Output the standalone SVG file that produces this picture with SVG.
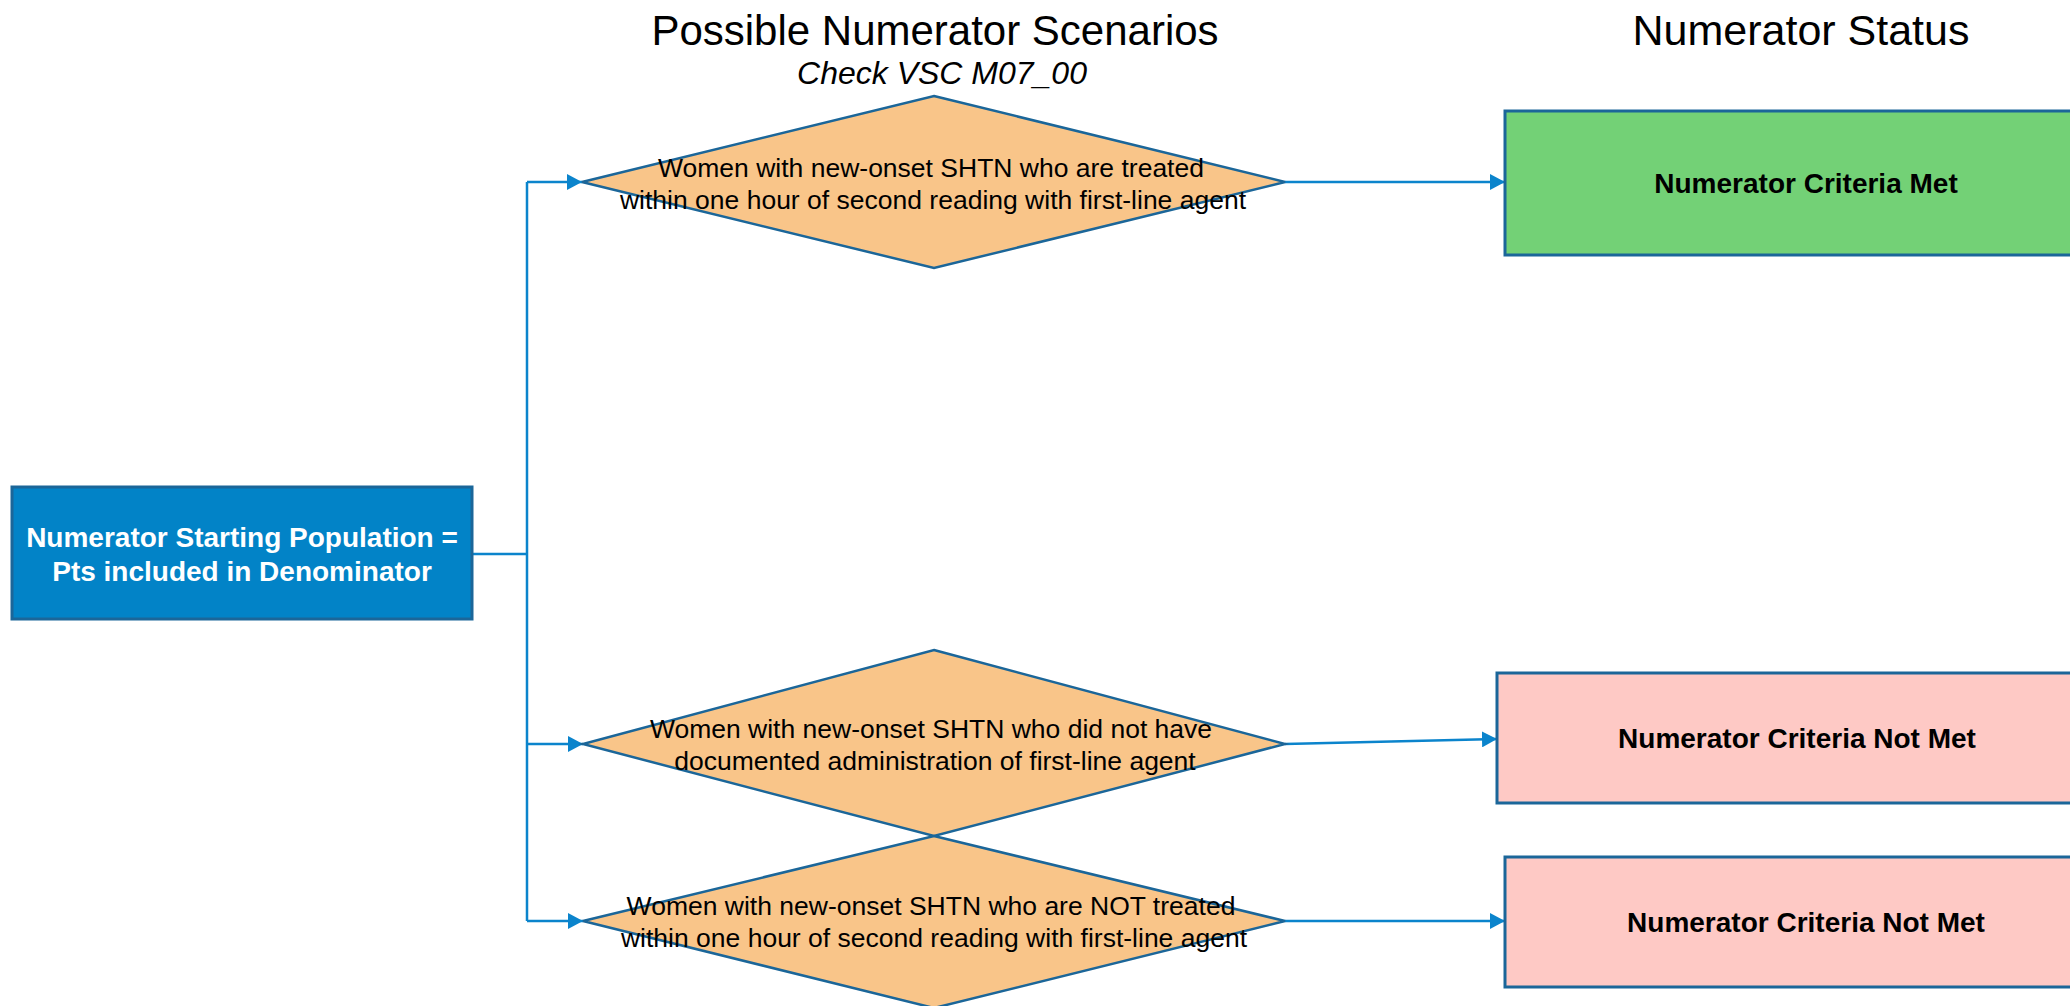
<svg xmlns="http://www.w3.org/2000/svg" width="2070" height="1006" viewBox="0 0 2070 1006">
<defs>
<style>
.title{font-family:"Liberation Sans",Arial,sans-serif;font-size:42px;fill:#000;text-anchor:middle}
.sub{font-family:"Liberation Sans",Arial,sans-serif;font-size:32px;font-style:italic;fill:#000;text-anchor:middle}
.dia{fill:#F9C589;stroke:#1B6699;stroke-width:2.5}
.dt{font-family:"Liberation Sans",Arial,sans-serif;font-size:26.5px;fill:#000;text-anchor:middle}
.box{stroke:#1B6699;stroke-width:3}
.bt{font-family:"Liberation Sans",Arial,sans-serif;font-size:28px;font-weight:bold;fill:#000;text-anchor:middle}
.wt{font-family:"Liberation Sans",Arial,sans-serif;font-size:28px;font-weight:bold;fill:#fff;text-anchor:middle}
.con{fill:none;stroke:#0B84CC;stroke-width:2.5}
</style>
<marker id="arr" markerUnits="userSpaceOnUse" markerWidth="16" markerHeight="16" refX="15" refY="8" orient="auto">
<path d="M0,0 L15,8 L0,16 Z" fill="#0B84CC"/>
</marker>
</defs>
<rect width="2070" height="1006" fill="#fff"/>
<g id="headers">
<text class="title" x="935" y="45">Possible Numerator Scenarios</text>
<text class="sub" x="942" y="84">Check VSC M07_00</text>
<text class="title" x="1801" y="45" style="font-size:43px">Numerator Status</text>
</g>
<g id="connectors">
<polyline class="con" points="472,554 527,554"/>
<polyline class="con" points="527,921 527,182"/>
<polyline class="con" points="527,182 582,182" marker-end="url(#arr)"/>
<polyline class="con" points="527,744 583,744" marker-end="url(#arr)"/>
<polyline class="con" points="527,921 583,921" marker-end="url(#arr)"/>
<polyline class="con" points="1285,182 1505,182" marker-end="url(#arr)"/>
<polyline class="con" points="1285,744 1497,739" marker-end="url(#arr)"/>
<polyline class="con" points="1285,921 1505,921" marker-end="url(#arr)"/>
</g>
<g id="start">
<rect class="box" x="12" y="487" width="460" height="132" fill="#0283C7"/>
<text class="wt" x="242" y="547">Numerator Starting Population =</text>
<text class="wt" x="242" y="581">Pts included in Denominator</text>
</g>
<g id="d1">
<polygon class="dia" points="934,96 1285,182 934,268 582,182"/>
<text class="dt" x="931" y="177">Women with new-onset SHTN who are treated</text>
<text class="dt" x="933" y="209">within one hour of second reading with first-line agent</text>
</g>
<g id="d2">
<polygon class="dia" points="934,650 1285,744 934,836 583,744"/>
<text class="dt" x="931" y="738">Women with new-onset SHTN who did not have</text>
<text class="dt" x="935" y="770">documented administration of first-line agent</text>
</g>
<g id="d3">
<polygon class="dia" points="934,836 1285,921 934,1008 583,921"/>
<text class="dt" x="931" y="915">Women with new-onset SHTN who are NOT treated</text>
<text class="dt" x="934" y="947">within one hour of second reading with first-line agent</text>
</g>
<g id="met">
<rect class="box" x="1505" y="111" width="602" height="144" fill="#73D176"/>
<text class="bt" x="1806" y="193">Numerator Criteria Met</text>
</g>
<g id="notmet1">
<rect class="box" x="1497" y="673" width="600" height="130" fill="#FEC9C5"/>
<text class="bt" x="1797" y="748">Numerator Criteria Not Met</text>
</g>
<g id="notmet2">
<rect class="box" x="1505" y="857" width="602" height="130" fill="#FEC9C5"/>
<text class="bt" x="1806" y="932">Numerator Criteria Not Met</text>
</g>
</svg>
